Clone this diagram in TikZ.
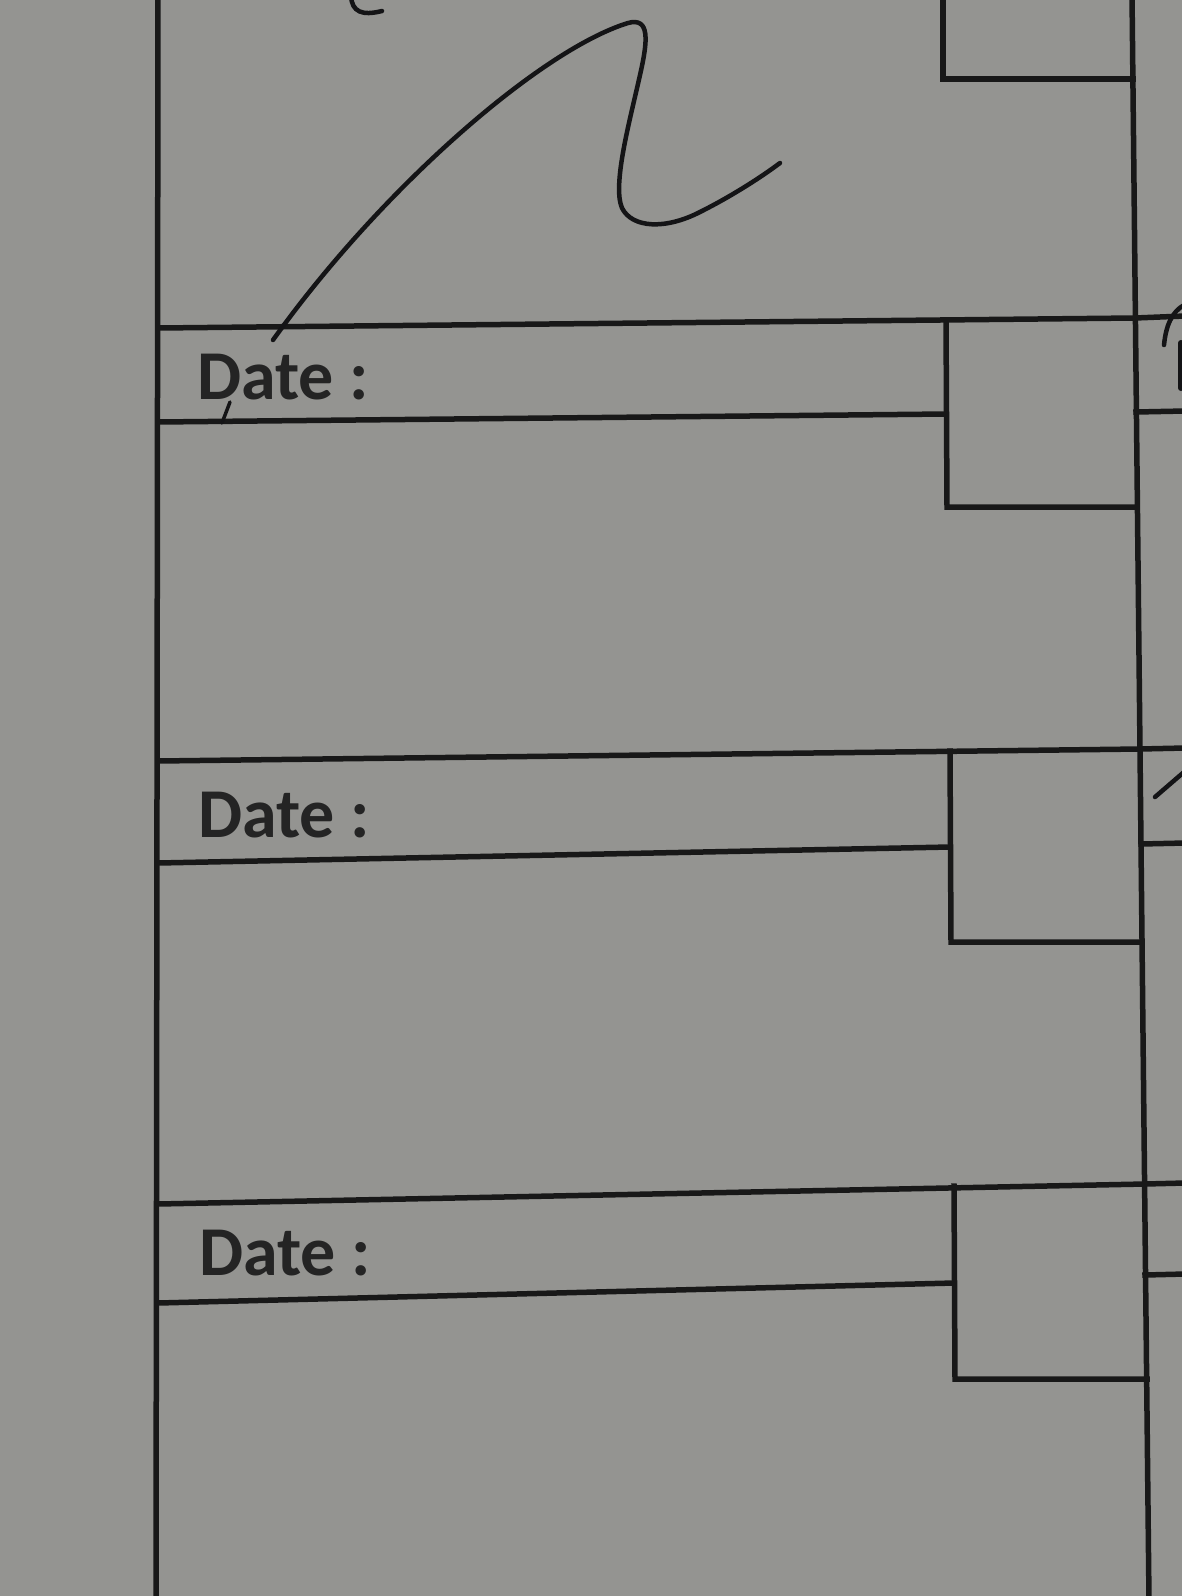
\documentclass[tikz,border=0pt]{standalone}
\usepackage{fontspec}
\setmainfont{Carlito}
\definecolor{paper}{RGB}{148,148,145}
\definecolor{ink}{RGB}{24,24,24}
\definecolor{pencolor}{RGB}{20,20,22}
\begin{document}
\begin{tikzpicture}[x=1pt,y=-1pt,
  rule/.style={line width=5.5pt, draw=ink, line cap=rect, line join=miter},
  pen/.style={line width=4.5pt, draw=pencolor, line cap=round, line join=round},
  datelabel/.style={anchor=base west, inner sep=0pt, font=\fontsize{70}{70}\selectfont\bfseries, text=ink!90!paper}]
\fill[paper] (0,0) rectangle (1182,1596);
\useasboundingbox (0,0) rectangle (1182,1596);

% outer verticals
\draw[rule] (158,-5) -- (156,1601);
\draw[rule] (1132,-5) -- (1149,1601);

% top partial box
\draw[rule] (943,-5) -- (943,79) -- (1133,79);

% section 1
\draw[rule] (158,328) -- (1135,318) -- (1185,316);
\draw[rule] (158,422) -- (946,414);
\draw[rule] (946,320) -- (947,507) -- (1137,507);
\draw[rule] (1136,412) -- (1185,411);
\node[datelabel] (d1) at (197,399) {Date :};

% section 2
\draw[rule] (158,761) -- (1140,749) -- (1185,748);
\draw[rule] (158,863) -- (950,847);
\draw[rule] (950,751) -- (951,942) -- (1142,942);
\draw[rule] (1141,844) -- (1185,843);
\node[datelabel] (d2) at (198,837) {Date :};

% section 3
\draw[rule] (158,1204) -- (1145,1184) -- (1185,1183);
\draw[rule] (158,1303) -- (954,1283);
\draw[rule] (954,1186) -- (955,1379) -- (1147,1379);
\draw[rule] (1145,1275) -- (1185,1274);
\node[datelabel] (d3) at (199,1275) {Date :};

% handwriting
\draw[pen] (273,340) .. controls (380,190) and (540,50) .. (628,23)
  .. controls (650,17) and (648,40) .. (640,75)
  .. controls (630,120) and (612,185) .. (622,208)
  .. controls (632,228) and (665,230) .. (700,212)
  .. controls (730,197) and (760,178) .. (780,163);
\draw[pen, line width=3.5pt] (222,423) -- (230,402);
\draw[pen] (351,-4) .. controls (352,12) and (362,16) .. (382,11);
\draw[pen] (1164,345) .. controls (1166,325) and (1172,312) .. (1184,305);
\draw[pen, line width=6pt] (1181,343) -- (1181,388);
\draw[pen] (1155,797) -- (1184,772);
\end{tikzpicture}
\end{document}
